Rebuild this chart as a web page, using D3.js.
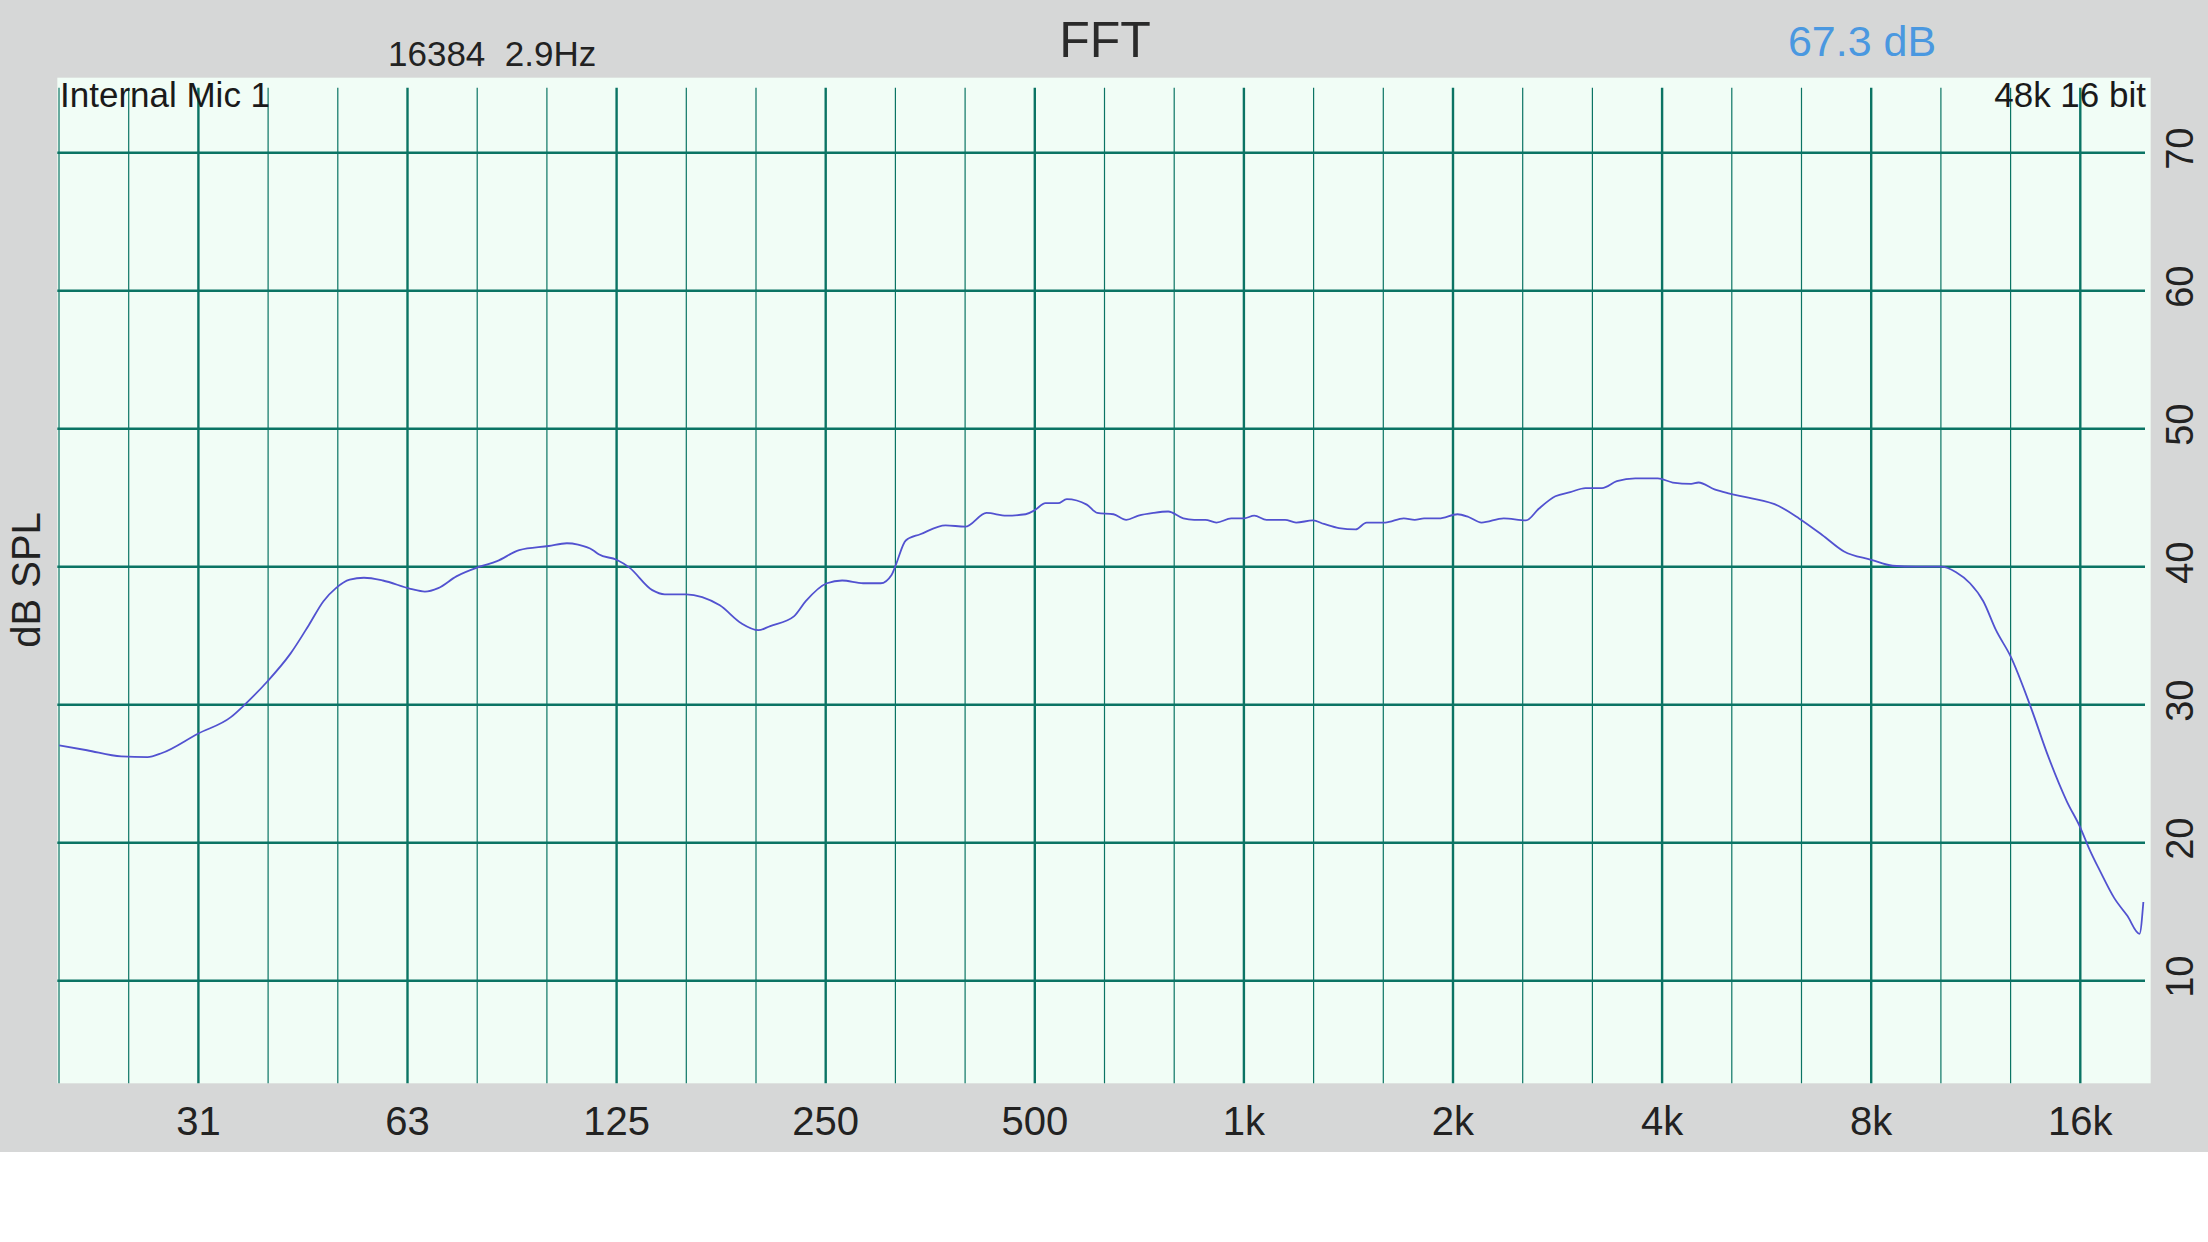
<!DOCTYPE html>
<html>
<head>
<meta charset="utf-8">
<script src="https://cdn.jsdelivr.net/npm/d3@7"></script>
<style>
  html, body { margin: 0; padding: 0; background: #ffffff; }
  svg { display: block; }
  text { font-family: "Liberation Sans", Arial, Helvetica, sans-serif; white-space: pre; }
</style>
</head>
<body>
<svg id="chart" width="2208" height="1242"></svg>
<script>
// ---- data ----
const freqs = [19.7, 21.6, 24.2, 26.4, 27.7, 31.2, 34.8, 36.6, 39.3, 42.4, 45.1, 47.3, 49.3, 51.6, 54.1, 57.6,
  63.1, 66.2, 69.2, 73.5, 79.4, 84.1, 90.5, 99.8, 106, 110, 115.6, 117.8, 125, 130.3, 140.7, 146.6, 157.5,
  166, 176, 189, 200, 208, 225, 234, 251, 264, 283, 300, 311, 315, 326, 342, 372, 397, 426, 455, 485, 500,
  518, 540, 556, 594, 615, 649, 677, 705, 741, 778, 818, 848, 880, 913, 959, 1000, 1035, 1078, 1146, 1189,
  1257, 1304, 1370, 1448, 1502, 1597, 1699, 1762, 1817, 1909, 2030, 2106, 2198, 2366, 2547, 2658, 2808,
  2950, 3103, 3277, 3443, 3660, 3944, 4144, 4405, 4513, 4759, 5003, 5323, 5887, 6298, 6800, 7311, 8000,
  8589, 9288, 10080, 10600, 11100, 11600, 12100, 12700, 13560, 14400, 15300, 16000, 16500, 17100, 17900,
  18700, 19470, 19720];
const levels = [27.05, 26.7, 26.25, 26.2, 26.5, 27.9, 29.1, 30.1, 31.7, 33.7, 35.8, 37.5, 38.45, 39.06, 39.2, 39.0,
  38.4, 38.2, 38.45, 39.3, 40.0, 40.4, 41.2, 41.5, 41.7, 41.6, 41.2, 40.9, 40.5, 39.95, 38.3, 38.0, 38.0,
  37.8, 37.2, 35.9, 35.4, 35.7, 36.4, 37.5, 38.8, 39.0, 38.8, 38.8, 39.4, 40.05, 41.9, 42.35, 43.0, 42.9, 43.9, 43.7, 43.8, 44.1,
  44.6, 44.6, 44.9, 44.5, 43.9, 43.8, 43.4, 43.7, 43.9, 44.0, 43.5, 43.4, 43.4, 43.2, 43.5, 43.5, 43.7, 43.4, 43.4, 43.2,
  43.35, 43.1, 42.8, 42.7, 43.2, 43.2, 43.5, 43.4, 43.5, 43.5, 43.8, 43.6, 43.2, 43.5, 43.35, 44.2, 45.1,
  45.4, 45.7, 45.7, 46.2, 46.4, 46.4, 46.1, 46.0, 46.1, 45.6, 45.3, 45.0, 44.4, 43.5, 42.3, 41.1, 40.5,
  40.07, 40.0, 40.0, 39.6, 38.8, 37.5, 35.4, 33.5, 29.9, 26.2, 23.0, 21.1, 19.5, 17.9, 16.0,
  14.7, 13.4, 15.7];
const xTickFreqs = [31.25, 62.5, 125, 250, 500, 1000, 2000, 4000, 8000, 16000];
const xTickLabels = ["31", "63", "125", "250", "500", "1k", "2k", "4k", "8k", "16k"];
const yTicks = [10, 20, 30, 40, 50, 60, 70];
const titleText = "FFT";
const fftInfo = "16384  2.9Hz";
const levelText = "67.3 dB";
const inputText = "Internal Mic 1";
const formatText = "48k 16 bit";
const yAxisTitle = "dB SPL";

// ---- layout ----
const W = 2208, H = 1242;
const plot = { left: 57.3, right: 2150.7, top: 77.7, bottom: 1083.3 };
const grayBottom = 1152;
const gridColor = "#0b7464";

const x = d3.scaleLog().domain([19.686, 20159]).range([59, 2150]);
const y = d3.scaleLinear().domain([10, 70]).range([980.7, 152.7]);

// third-octave grid frequencies
const gridFreqs = d3.range(-2, 28).map(j => 31.25 * Math.pow(2, j / 3));

const svg = d3.select("#chart");
svg.append("rect").attr("x", 0).attr("y", 0).attr("width", W).attr("height", H).attr("fill", "#ffffff");
svg.append("rect").attr("x", 0).attr("y", 0).attr("width", W).attr("height", grayBottom).attr("fill", "#d6d7d7");
svg.append("rect").attr("x", plot.left).attr("y", plot.top)
  .attr("width", plot.right - plot.left).attr("height", plot.bottom - plot.top).attr("fill", "#f1fdf6");

// vertical grid
const isOctave = f => xTickFreqs.some(t => Math.abs(Math.log2(f / t)) < 0.01);
svg.append("g").selectAll("line").data(gridFreqs).join("line")
  .attr("x1", d => x(d)).attr("x2", d => x(d))
  .attr("y1", 87.7).attr("y2", plot.bottom)
  .attr("stroke", gridColor)
  .attr("stroke-width", d => isOctave(d) ? 2.4 : 1.2);

// horizontal grid
svg.append("g").selectAll("line").data(yTicks).join("line")
  .attr("x1", plot.left).attr("x2", 2145)
  .attr("y1", d => y(d)).attr("y2", d => y(d))
  .attr("stroke", gridColor).attr("stroke-width", 2.6);

// curve
const pts = freqs.map((f, i) => [f, levels[i]]);
const line = d3.line().x(d => x(d[0])).y(d => y(d[1])).curve(d3.curveMonotoneX);
svg.append("path").datum(pts).attr("d", line)
  .attr("fill", "none").attr("stroke", "#5252d0").attr("stroke-width", 1.8)
  .attr("stroke-linejoin", "round");

// x tick labels
svg.append("g").selectAll("text").data(xTickFreqs).join("text")
  .attr("x", d => x(d)).attr("y", 1135)
  .attr("text-anchor", "middle").attr("font-size", 40).attr("fill", "#222")
  .text((d, i) => xTickLabels[i]);

// y tick labels (rotated, right side)
svg.append("g").selectAll("text").data(yTicks).join("text")
  .attr("transform", d => `translate(2193,${y(d) - 4}) rotate(-90)`)
  .attr("text-anchor", "middle").attr("font-size", 38).attr("fill", "#222")
  .text(d => d);

// y-axis title
svg.append("text").attr("transform", "translate(40,580) rotate(-90)")
  .attr("text-anchor", "middle").attr("font-size", 40).attr("fill", "#222").text(yAxisTitle);

// header texts
svg.append("text").attr("x", 388).attr("y", 66).attr("font-size", 35).attr("fill", "#222")
  .attr("xml:space", "preserve").text(fftInfo);
svg.append("text").attr("x", 1105).attr("y", 57).attr("text-anchor", "middle").attr("font-size", 50).attr("fill", "#2a2a2a").text(titleText);
svg.append("text").attr("x", 1862).attr("y", 56).attr("text-anchor", "middle").attr("font-size", 43).attr("fill", "#4a98e0").text(levelText);
svg.append("text").attr("x", 60).attr("y", 106.7).attr("font-size", 35).attr("fill", "#1a1a1a").text(inputText);
svg.append("text").attr("x", 2146).attr("y", 106.7).attr("text-anchor", "end").attr("font-size", 35).attr("fill", "#1a1a1a").text(formatText);
</script>
</body>
</html>
